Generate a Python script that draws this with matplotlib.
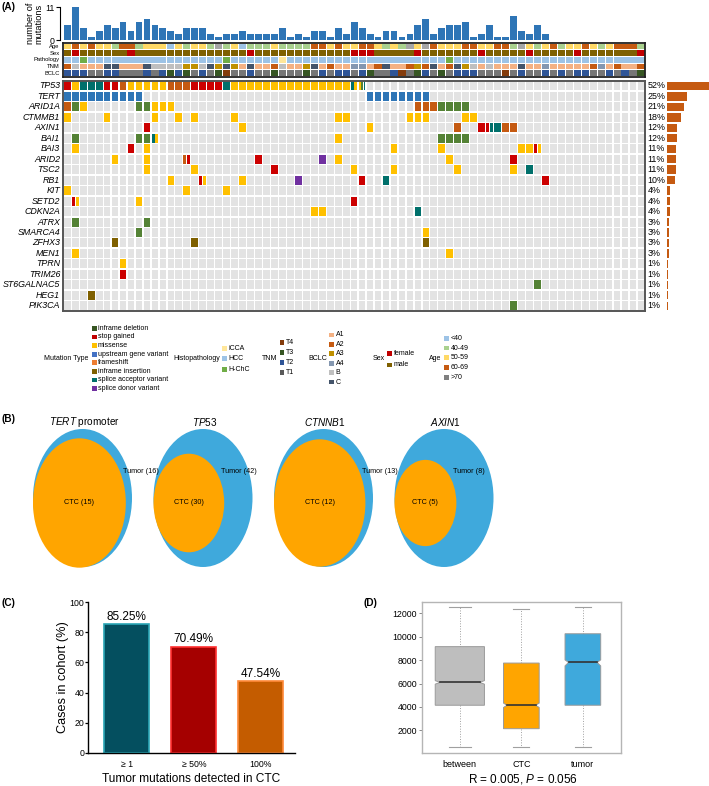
import numpy as np
import matplotlib
matplotlib.use('Agg')
import matplotlib.pyplot as plt
import matplotlib.font_manager as fm
from matplotlib.patches import Rectangle, Ellipse

W, H = 709, 786

installed = {f.name for f in fm.fontManager.ttflist}
NARROW = 'Liberation Sans Narrow' if 'Liberation Sans Narrow' in installed else 'Liberation Sans'
K = 1.0 if NARROW == 'Liberation Sans Narrow' else 0.84   # shrink when no narrow face

plt.rcParams['font.family'] = ['Liberation Sans', 'DejaVu Sans']
plt.rcParams['mathtext.fontset'] = 'custom'
plt.rcParams['mathtext.it'] = NARROW + ':italic'
plt.rcParams['mathtext.rm'] = NARROW

# ---------------- panel A data ----------------
n_samples = 73
genes = ['TP53', 'TERT', 'ARID1A', 'CTMMB1', 'AXIN1', 'BAI1', 'BAI3', 'ARID2', 'TSC2', 'RB1',
         'KIT', 'SETD2', 'CDKN2A', 'ATRX', 'SMARCA4', 'ZFHX3', 'MEN1', 'TPRN', 'TRIM26',
         'ST6GALNAC5', 'HEG1', 'PIK3CA']
pct = [52, 25, 21, 18, 12, 12, 11, 11, 11, 10, 4, 4, 4, 3, 3, 3, 3, 1, 1, 1, 1, 1]

# sample:code ; several letters = several mutations in one cell
mutations = {
    'TP53': '0:S 1:M 2:A 3:A 4:A 5:S 6:S 7:F 8:M 9:M 10:M 11:M 12:M 13:F 14:F 15:F 16:S 17:S 18:S '
            '19:S 20:A 21:M 22:M 23:M 24:M 25:M 26:M 27:M 28:M 29:M 30:M 31:M 32:M 33:M 34:M 35:M 36:AM 37:MDA',
    'TERT': '0:U 1:U 2:U 3:U 4:U 5:U 6:U 7:U 8:U 9:U 38:U 39:U 40:U 41:U 42:U 43:U 44:U 45:U',
    'ARID1A': '0:F 1:D 2:M 9:D 10:D 11:M 12:M 13:M 44:F 45:F 46:F 47:D 48:D 49:D 50:D',
    'CTMMB1': '0:M 5:M 11:M 14:M 16:M 21:M 34:M 35:M 43:M 44:M 45:M 50:M 51:M',
    'AXIN1': '10:S 22:M 38:M 49:F 52:S 53:SA 54:A 55:F 56:F',
    'BAI1': '1:D 9:D 10:D 11:AM 34:M 47:D 48:D 49:D 50:D',
    'BAI3': '1:M 8:S 10:M 41:M 47:M 57:M 58:M 59:SM',
    'ARID2': '6:M 10:M 15:FS 24:S 32:P 34:M 48:M 56:S',
    'TSC2': '10:M 16:M 26:S 36:M 41:M 49:M 56:M 58:A',
    'RB1': '13:M 17:SM 22:M 29:P 37:S 40:A 60:S',
    'KIT': '0:M 15:M 20:M',
    'SETD2': '1:SM 9:M 36:S',
    'CDKN2A': '31:M 32:M 44:A',
    'ATRX': '1:D 10:D',
    'SMARCA4': '9:D 45:M',
    'ZFHX3': '6:I 16:I 45:I',
    'MEN1': '1:M 48:M',
    'TPRN': '7:M',
    'TRIM26': '7:S',
    'ST6GALNAC5': '59:D',
    'HEG1': '3:I',
    'PIK3CA': '56:D',
}
cell_colors = {'D': '#548235', 'S': '#cc0000', 'M': '#ffc000', 'U': '#2e75b6',
               'F': '#c55a11', 'I': '#7f6000', 'A': '#00706b', 'P': '#7030a0'}

n_mut = [5, 11, 4, 1, 3, 5, 4, 6, 3, 6, 7, 5, 4, 3, 2, 4, 4, 4, 2, 1, 2, 2, 3, 2, 2, 2, 2, 4, 1, 2,
         1, 3, 3, 1, 4, 2, 6, 4, 2, 1, 3, 3, 1, 2, 5, 7, 2, 4, 5, 5, 6, 1, 2, 5, 1, 1, 8, 3, 2, 5,
         2, 0, 0, 0, 0, 0, 0, 0, 0, 0, 0, 0, 0]

# one letter per sample, written in blocks of ten
track_names = ['Age', 'Sex', 'Pathology', 'TNM', 'BCLC']
track_age = 'YOYOYYGOOG YYYBYGYYGR GYBGGGYGGG GOOYOYYOOY GYGRYROYYY OOYYOOGRYG YOGYYOYGYO OOG'
track_sex = 'mfmmmmmmfm mmmmmmmmmm mmmfmmmmmm mmmmmmfffm mmmmfmmmmm mmfmmmmmfm mmmmfmmmmm mmf'
track_path = 'HHGHHHHHHH HHHHHHHHHH GHHHHHHIHH HHHHHHHHHH HHHHHHHHGH HHHHHHHHHH HHHHHHHHHH HHH'
track_tnm = '2b111cc111 cbbbb33bc3 c31c112b11 3c12114412 c11232c12c 3b1b111c11 4111112412 112c'
track_bclc = 'bbbggbbggg bgbtbtgbgt kggbggtggg tgbgbbgbtg gbkgtbgtgb bbgggkgbgg bgbgbbggbg bgt'
track_colors = {
    'Age': {'B': '#9dc3e6', 'G': '#a9d18e', 'Y': '#ffd966', 'O': '#c55a11', 'R': '#a6a6a6'},
    'Sex': {'f': '#c00000', 'm': '#7f6000'},
    'Pathology': {'I': '#ffe699', 'H': '#9dc3e6', 'G': '#70ad47'},
    'TNM': {'1': '#f4b183', '2': '#c55a11', '3': '#bf9000', '4': '#8497b0', 'b': '#bfbfbf', 'c': '#44546a'},
    'BCLC': {'k': '#843c0c', 't': '#375623', 'b': '#2f5597', 'g': '#767676'},
}
tracks = {'Age': track_age, 'Sex': track_sex, 'Pathology': track_path, 'TNM': track_tnm, 'BCLC': track_bclc}

# legend contents
mut_labels = ['inframe deletion', 'stop gained', 'missense', 'upstream gene variant', 'frameshift',
              'inframe insertion', 'splice acceptor variant', 'splice donor variant']
mut_leg_colors = ['#375623', '#c00000', '#ffc000', '#4472c4', '#ed7d31', '#7f6000', '#00706b', '#7030a0']
path_labels = ['iCCA', 'HCC', 'H-ChC']
path_colors = ['#ffe699', '#9dc3e6', '#70ad47']
tnm_labels = ['T4', 'T3', 'T2', 'T1']
tnm_colors = ['#843c0c', '#375623', '#2f5597', '#595959']
bclc_labels = ['A1', 'A2', 'A3', 'A4', 'B', 'C']
bclc_colors = ['#f4b183', '#c55a11', '#bf9000', '#8497b0', '#bfbfbf', '#44546a']
sex_labels = ['female', 'male']
sex_colors = ['#c00000', '#7f6000']
age_labels = ['<40', '40-49', '50-59', '60-69', '>70']
age_colors = ['#9dc3e6', '#a9d18e', '#ffd966', '#c55a11', '#808080']

# ---------------- panel B data ----------------
venn_genes = ['TERT', 'TP53', 'CTNNB1', 'AXIN1']
venn_tumor = [16, 42, 13, 8]
venn_ctc = [15, 30, 12, 5]

# ---------------- panel C data ----------------
c_cats = ['\u2265 1', '\u2265 50%', '100%']
c_vals = [85.25, 70.49, 47.54]
c_fill = ['#044f5f', '#a50000', '#c45c00']
c_edge = ['#2aa5b5', '#ff3030', '#ff8a3a']

# ---------------- panel D data ----------------
d_cats = ['between', 'CTC', 'tumor']
d_whislo = [600, 600, 600]
d_q1 = [4150, 2150, 4150]
d_med = [6100, 4150, 7800]
d_q3 = [9150, 7750, 10250]
d_whishi = [12550, 12400, 12550]
d_cilo = [5950, 3960, 7510]
d_cihi = [6250, 4330, 8020]
d_width = [0.8, 0.58, 0.58]
d_colors = ['#bebebe', '#ffa500', '#3fa9dc']

# =================================================
fig = plt.figure(figsize=(W / 100, H / 100), dpi=100)


def px_axes(x0, y0, x1, y1):
    return fig.add_axes([x0 / W, 1 - y1 / H, (x1 - x0) / W, (y1 - y0) / H])


canvas = px_axes(0, 0, W, H)
canvas.set_xlim(0, W)
canvas.set_ylim(H, 0)
canvas.axis('off')

GX0, GX1 = 63.3, 645

# top bars
ax_bar = px_axes(GX0, 7.3, GX1, 40)
ax_bar.bar(np.arange(n_samples) + 0.5, n_mut, width=0.86, color='#2e75b6')
ax_bar.set_xlim(0, n_samples)
ax_bar.set_ylim(0, 11)
for s in ['top', 'right', 'bottom']:
    ax_bar.spines[s].set_visible(False)
ax_bar.spines['left'].set_position(('outward', 2.5))
ax_bar.spines['left'].set_linewidth(0.8)
ax_bar.set_xticks([])
ax_bar.set_yticks([0, 11])
ax_bar.tick_params(axis='y', length=3, width=0.8, pad=1, labelsize=7.5 * K)
for t in ax_bar.get_yticklabels():
    t.set_family(NARROW)
ax_bar.set_ylabel('number of\nmutations', fontsize=7.8 * K, family=NARROW, labelpad=1, linespacing=0.95)

# annotation tracks
ax_tr = px_axes(GX0, 43.3, GX1, 76.5)
ax_tr.set_xlim(0, n_samples)
ax_tr.set_ylim(len(track_names), 0)
for r, name in enumerate(track_names):
    codes = ''.join(tracks[name].split())
    for c in range(n_samples):
        ax_tr.add_patch(Rectangle((c + 0.05, r + 0.07), 0.9, 0.86, lw=0,
                                  color=track_colors[name][codes[c]]))
    ax_tr.text(-0.45, r + 0.5, name, ha='right', va='center', fontsize=5.0 * K, family=NARROW)
ax_tr.set_xticks([])
ax_tr.set_yticks([])
for s in ax_tr.spines.values():
    s.set_linewidth(1.3)
    s.set_color('#222222')

# oncoprint grid
ax_g = px_axes(GX0, 80.7, GX1, 311)
ax_g.set_xlim(0, n_samples)
ax_g.set_ylim(len(genes), 0)
for r, g in enumerate(genes):
    cells = dict(tok.split(':') for tok in mutations[g].split())
    for c in range(n_samples):
        key = str(c)
        if key not in cells:
            ax_g.add_patch(Rectangle((c + 0.08, r + 0.07), 0.84, 0.86, lw=0, color='#e3e3e3'))
            continue
        codes = cells[key]
        n = len(codes)
        gap = 0.08 if n > 1 else 0
        w = (0.84 - gap * (n - 1)) / n
        for k, code in enumerate(codes):
            ax_g.add_patch(Rectangle((c + 0.08 + k * (w + gap), r + 0.07), w, 0.86, lw=0,
                                     color=cell_colors[code]))
    ax_g.text(-0.4, r + 0.5, g, ha='right', va='center', fontsize=7.6 * K, family=NARROW, style='italic')
    ax_g.text(n_samples + 0.3, r + 0.5, f'{pct[r]}%', ha='left', va='center', fontsize=7.6 * K,
              family=NARROW)
ax_g.set_xticks([])
ax_g.set_yticks([])
for s in ax_g.spines.values():
    s.set_linewidth(1.4)
    s.set_color('#555555')

# frequency bars at right
ax_p = px_axes(667, 80.7, 709, 311)
ax_p.barh(np.arange(len(genes)) + 0.5, pct, height=0.8, color='#c55a11')
ax_p.set_ylim(len(genes), 0)
ax_p.set_xlim(0, 52.5)
ax_p.axis('off')

# legends
legend_groups = [
    ('Mutation Type', 88.3, 91.7, mut_labels, mut_leg_colors, 328.3, 8.6),
    ('Histopathology', 220, 222.3, path_labels, path_colors, 348.3, 10.5),
    ('TNM', 277.3, 279.5, tnm_labels, tnm_colors, 342.3, 10.0),
    ('BCLC', 326.7, 329.3, bclc_labels, bclc_colors, 335.0, 9.4),
    ('Sex', 385, 387.3, sex_labels, sex_colors, 353.7, 11.3),
    ('Age', 441.7, 444.3, age_labels, age_colors, 338.3, 9.7),
]
for title, tx, sx, labels, colors, y0, dy in legend_groups:
    canvas.text(tx, 358.7, title, ha='right', va='center', fontsize=6.0 * K, family=NARROW)
    for k, (lab, col) in enumerate(zip(labels, colors)):
        yy = y0 + k * dy
        canvas.add_patch(Rectangle((sx, yy - 2.4), 4.8, 4.8, lw=0, color=col))
        canvas.text(sx + 6.2, yy, lab, ha='left', va='center', fontsize=6.0 * K, family=NARROW)

canvas.text(2, 7.5, '(A)', ha='left', va='center', fontsize=7.2, fontweight='bold')

# ---------------- panel B ----------------
canvas.text(2, 419.5, '(B)', ha='left', va='center', fontsize=7.2, fontweight='bold')
BW, BH = 99, 138
for i, (g, nt, nc) in enumerate(zip(venn_genes, venn_tumor, venn_ctc)):
    cx = 82.5 + 120.5 * i
    r = nc / nt
    canvas.add_patch(Ellipse((cx, 498), BW, BH, color='#3fa9dc', lw=0))
    ow, oh = BW * r, BH * r
    ocx = cx - BW / 2 + ow / 2
    canvas.add_patch(Ellipse((ocx, 503), ow, oh, color='#ffa500', lw=0))
    title = f'$\\mathit{{{g}}}$' + (' promoter' if g == 'TERT' else '')
    canvas.text(cx + 1.5, 421.7, title, ha='center', va='center', fontsize=8.6 * K, family=NARROW)
    canvas.text(cx - BW / 2 + ow - 3, 471.7, f'Tumor ({nt})', ha='left', va='center',
                fontsize=6.2 * K, family=NARROW)
    canvas.text(ocx, 503, f'CTC ({nc})', ha='center', va='center', fontsize=6.2 * K, family=NARROW)

# ---------------- panel C ----------------
canvas.text(2, 603.5, '(C)', ha='left', va='center', fontsize=7.2, fontweight='bold')
ax_c = px_axes(88, 602.3, 295, 752.7)
xc = np.arange(len(c_vals))
ax_c.bar(xc, c_vals, width=0.67, color=c_fill, edgecolor=c_edge, linewidth=1.2)
for x, v in zip(xc, c_vals):
    ax_c.text(x, v + 0.8, f'{v:.2f}%', ha='center', va='bottom', fontsize=8.5)
ax_c.set_xlim(-0.58, 2.51)
ax_c.set_ylim(0, 100)
ax_c.set_yticks([0, 20, 40, 60, 80, 100])
ax_c.set_xticks(xc)
ax_c.set_xticklabels(c_cats)
ax_c.tick_params(axis='y', length=2, width=0.9, labelsize=6.3, pad=0.8)
ax_c.tick_params(axis='x', length=0, labelsize=6.3, pad=5)
for s in ['top', 'right']:
    ax_c.spines[s].set_visible(False)
for s in ['left', 'bottom']:
    ax_c.spines[s].set_linewidth(1.0)
ax_c.set_ylabel('Cases in cohort (%)', fontsize=9.2, labelpad=0.5)
canvas.text(191.5, 779.5, 'Tumor mutations detected in CTC', ha='center', va='center', fontsize=8.6)

# ---------------- panel D ----------------
canvas.text(363, 602.5, '(D)', ha='left', va='center', fontsize=7.2, fontweight='bold')
ax_d = px_axes(421.7, 602, 621, 752.7)
for i in range(len(d_cats)):
    x = i + 1
    w = d_width[i]
    l, r = x - w / 2, x + w / 2
    d = 0.1 * w
    poly_x = [l, r, r, r - d, r, r, l, l, l + d, l]
    poly_y = [d_q1[i], d_q1[i], d_cilo[i], d_med[i], d_cihi[i], d_q3[i], d_q3[i], d_cihi[i], d_med[i], d_cilo[i]]
    ax_d.fill(poly_x, poly_y, facecolor=d_colors[i], edgecolor='#9a9a9a', linewidth=0.7, zorder=3)
    ax_d.plot([l + d, r - d], [d_med[i], d_med[i]], color='#333333', lw=1.2, zorder=4)
    ax_d.plot([x, x], [d_q3[i], d_whishi[i]], color='#a0a0a0', lw=0.7, ls=':', zorder=2)
    ax_d.plot([x, x], [d_q1[i], d_whislo[i]], color='#a0a0a0', lw=0.7, ls=':', zorder=2)
    cw = 0.45 * w / 2
    ax_d.plot([x - cw, x + cw], [d_whishi[i]] * 2, color='#a0a0a0', lw=0.8)
    ax_d.plot([x - cw, x + cw], [d_whislo[i]] * 2, color='#a0a0a0', lw=0.8)
ax_d.set_xlim(0.38, 3.62)
ax_d.set_ylim(100, 12960)
ax_d.set_yticks([2000, 4000, 6000, 8000, 10000, 12000])
ax_d.set_xticks([1, 2, 3])
ax_d.set_xticklabels(d_cats)
ax_d.tick_params(axis='y', length=2, width=0.7, color='#888888', labelsize=6.3, pad=1.2)
ax_d.tick_params(axis='x', length=0, labelsize=6.5, pad=5)
for s in ax_d.spines.values():
    s.set_color('#b5b5b5')
    s.set_linewidth(1.0)
canvas.text(523, 779, 'R = 0.005, $\\mathit{P}$ = 0.056', ha='center', va='center', fontsize=8.5)

fig.savefig('out.png', dpi=100)
